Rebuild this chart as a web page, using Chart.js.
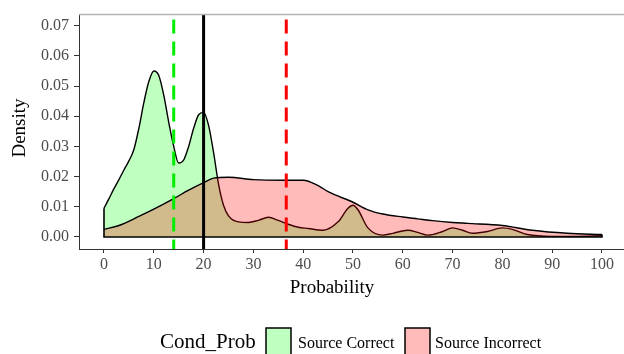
<!DOCTYPE html>
<html>
<head>
<meta charset="utf-8">
<script src="https://cdn.jsdelivr.net/npm/chart.js@4"></script>
<style>
  html, body { margin: 0; padding: 0; background: #fff; }
  #wrap { width: 624px; height: 354px; }
</style>
</head>
<body>
<div id="wrap"><canvas id="densityChart" width="624" height="354"></canvas></div>
<script>
// Density estimates
const correctX = [0, 1, 2, 3, 4, 5, 6, 7, 8, 9, 10, 11, 12, 13, 14, 15, 16, 17, 18, 19, 20, 21, 22, 23, 24, 25, 27, 29, 31, 33, 35, 37, 39, 41, 44, 47, 49, 50, 51, 53, 56, 58, 61, 63, 65, 68, 70, 72, 74, 77, 80, 82, 85, 90, 95, 100];
const correctY = [0.0095, 0.0127, 0.016, 0.019, 0.0222, 0.0252, 0.029, 0.036, 0.0445, 0.0515, 0.055, 0.0535, 0.047, 0.038, 0.030, 0.0245, 0.0255, 0.030, 0.036, 0.0405, 0.0413, 0.037, 0.028, 0.0175, 0.0105, 0.007, 0.005, 0.0048, 0.0055, 0.0065, 0.0055, 0.0042, 0.0032, 0.0028, 0.0022, 0.005, 0.0095, 0.0105, 0.009, 0.003, 0.0006, 0.0012, 0.0022, 0.0015, 0.0006, 0.0018, 0.003, 0.0022, 0.0012, 0.0018, 0.003, 0.0025, 0.0008, 0.0002, 0.0002, 0.0004];

const incorrectX = [0, 3, 7, 10, 14, 17, 20, 22, 25, 30, 36, 40, 43, 45, 50, 53, 56, 60, 63, 66, 70, 73, 80, 86, 93, 100];
const incorrectY = [0.0025, 0.0038, 0.0068, 0.0092, 0.0127, 0.0155, 0.018, 0.0195, 0.0198, 0.019, 0.0188, 0.0188, 0.017, 0.015, 0.0115, 0.009, 0.0076, 0.0066, 0.006, 0.0054, 0.0048, 0.0045, 0.0038, 0.0022, 0.0012, 0.0008];

// Reference lines (vertical)
const meanCorrect = 14;
const meanIncorrect = 36.6;
const sourceLine = 20;

const xTicks = [0, 10, 20, 30, 40, 50, 60, 70, 80, 90, 100];
const yTicks = [0, 0.01, 0.02, 0.03, 0.04, 0.05, 0.06, 0.07];

const legendTitle = 'Cond_Prob';
const groupLabels = ['Source Correct', 'Source Incorrect'];

const toPoints = (xs, ys) => xs.map((x, i) => ({ x: x, y: ys[i] }));

const Y_MIN = -0.004, Y_MAX = 0.0737;
const vline = (x) => [{ x: x, y: Y_MAX }, { x: x, y: Y_MIN }];

const serif = '"Liberation Serif", "Times New Roman", serif';

// Draws top border, axis titles and the legend row
const decorations = {
    id: 'decorations',
    afterDraw(chart) {
        const c = chart.ctx;
        const a = chart.chartArea;
        c.save();
        c.strokeStyle = '#b5b5b5';
        c.lineWidth = 1.5;
        c.beginPath();
        c.moveTo(a.left, a.top);
        c.lineTo(a.right, a.top);
        c.stroke();

        c.fillStyle = '#000';
        c.font = '19px ' + serif;
        c.textAlign = 'center';
        c.textBaseline = 'middle';
        c.fillText('Probability', 332, 288);
        c.translate(20, 128);
        c.rotate(-Math.PI / 2);
        c.fillText('Density', 0, 0);
        c.restore();

        c.save();
        c.textBaseline = 'alphabetic';
        c.textAlign = 'left';
        c.fillStyle = '#000';
        c.font = '21px ' + serif;
        c.fillText(legendTitle, 160, 348);
        const boxes = [
            { x: 266, fill: 'rgb(191,255,191)', text: 298 },
            { x: 405, fill: 'rgb(255,186,186)', text: 435 }
        ];
        c.font = '16px ' + serif;
        boxes.forEach((b, i) => {
            c.fillStyle = b.fill;
            c.fillRect(b.x, 328, 25, 30);
            c.strokeStyle = '#000';
            c.lineWidth = 1.5;
            c.strokeRect(b.x, 328, 25, 30);
            c.fillStyle = '#000';
            c.fillText(groupLabels[i], b.text, 348);
        });
        c.restore();
    }
};

const ctx = document.getElementById('densityChart').getContext('2d');

const densityChart = new Chart(ctx, {
    type: 'line',
    data: {
        datasets: [
            {
                label: 'mean incorrect',
                data: vline(meanIncorrect),
                borderColor: '#ff0000',
                borderWidth: 3,
                borderDash: [14, 8],
                borderDashOffset: 17,
                pointRadius: 0,
                fill: false
            },
            {
                label: 'mean correct',
                data: vline(meanCorrect),
                borderColor: '#00ee00',
                borderWidth: 3,
                borderDash: [14, 8],
                borderDashOffset: 17,
                pointRadius: 0,
                fill: false
            },
            {
                label: 'source',
                data: vline(sourceLine),
                borderColor: '#000',
                borderWidth: 3,
                pointRadius: 0,
                fill: false
            },
            {
                label: 'outline',
                data: [
                    { x: correctX[0], y: correctY[0] },
                    { x: correctX[0], y: 0 },
                    { x: incorrectX[incorrectX.length - 1], y: 0 },
                    { x: incorrectX[incorrectX.length - 1], y: incorrectY[incorrectY.length - 1] }
                ],
                borderColor: '#000',
                borderWidth: 1.6,
                pointRadius: 0,
                tension: 0,
                fill: false
            },
            {
                label: groupLabels[1],
                data: toPoints(incorrectX, incorrectY),
                borderColor: '#000',
                borderWidth: 1.4,
                backgroundColor: 'rgba(255,0,0,0.27)',
                cubicInterpolationMode: 'monotone',
                pointRadius: 0,
                fill: 'origin'
            },
            {
                label: groupLabels[0],
                data: toPoints(correctX, correctY),
                borderColor: '#000',
                borderWidth: 1.4,
                backgroundColor: 'rgba(0,255,0,0.25)',
                cubicInterpolationMode: 'monotone',
                pointRadius: 0,
                fill: 'origin'
            }
        ]
    },
    options: {
        responsive: false,
        animation: false,
        layout: { padding: { top: 6, left: 0, right: 0, bottom: 0 } },
        plugins: {
            legend: { display: false },
            tooltip: { enabled: false }
        },
        scales: {
            x: {
                type: 'linear',
                min: -5.02,
                max: 104.42,
                afterFit: (s) => { s.height = 105; },
                afterBuildTicks: (s) => { s.ticks = xTicks.map(v => ({ value: v })); },
                border: { display: true, color: '#333', width: 1 },
                grid: { drawOnChartArea: false, tickLength: 4, tickColor: '#333' },
                ticks: {
                    color: '#4d4d4d',
                    padding: 2,
                    maxRotation: 0,
                    font: { family: serif, size: 16 },
                    callback: (v) => String(v)
                }
            },
            y: {
                type: 'linear',
                min: Y_MIN,
                max: Y_MAX,
                afterFit: (s) => { s.width = 79; },
                afterBuildTicks: (s) => { s.ticks = yTicks.map(v => ({ value: v })); },
                border: { display: true, color: '#333', width: 1 },
                grid: { drawOnChartArea: false, tickLength: 5, tickColor: '#333' },
                ticks: {
                    color: '#4d4d4d',
                    padding: 5,
                    font: { family: serif, size: 16 },
                    callback: (v) => v.toFixed(2)
                }
            }
        }
    },
    plugins: [decorations]
});
</script>
</body>
</html>
